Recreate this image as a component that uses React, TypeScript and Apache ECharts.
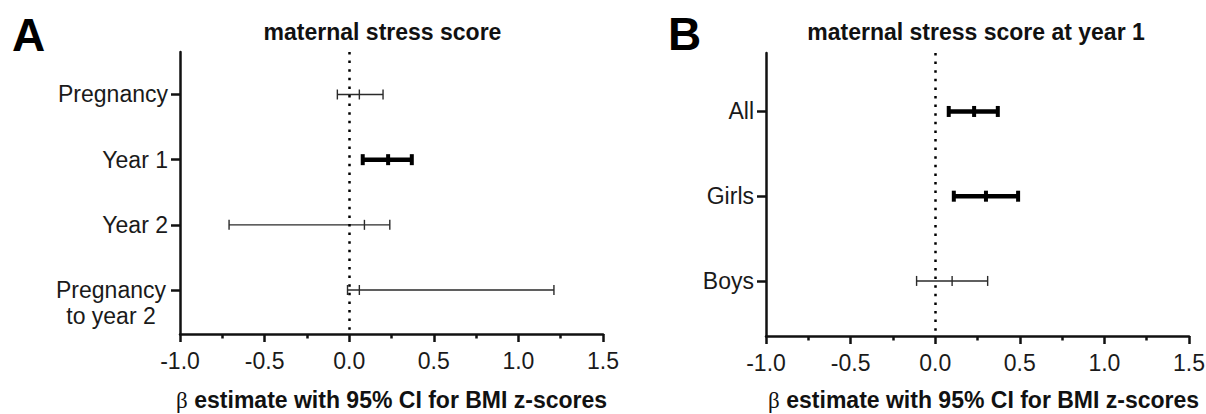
import React, { useEffect, useRef } from "react";
import * as echarts from "echarts";

// Panel A: maternal stress score measured at different times
const categoriesA = ["Pregnancy", "Year 1", "Year 2", "Pregnancy\nto year 2"];
const lowA = [-0.07, 0.08, -0.71, -0.01];
const estimateA = [0.06, 0.23, 0.09, 0.06];
const highA = [0.2, 0.37, 0.24, 1.21];
const significantA = [false, true, false, false];

// Panel B: maternal stress score at year 1, by child sex
const categoriesB = ["All", "Girls", "Boys"];
const lowB = [0.08, 0.11, -0.11];
const estimateB = [0.23, 0.3, 0.1];
const highB = [0.37, 0.49, 0.31];
const significantB = [true, true, false];

const xTicks = [-1.0, -0.5, 0.0, 0.5, 1.0, 1.5];

const FONT = "'Liberation Sans', Arial, Helvetica, sans-serif";
const INK = "#111";
const LABEL_SIZE = 23;

function buildRows(low: number[], est: number[], high: number[], sig: boolean[]) {
  return low.map((l, i) => [l, est[i], high[i], i + 1, sig[i] ? 1 : 0]);
}

function renderErrorBar(_params: any, api: any) {
  const pos = api.value(3);
  const bold = api.value(4) === 1;
  const pLow = api.coord([api.value(0), pos]);
  const pEst = api.coord([api.value(1), pos]);
  const pHigh = api.coord([api.value(2), pos]);
  const half = bold ? 5.5 : 5;
  const style = {
    stroke: bold ? "#000" : "#2a2a2a",
    lineWidth: bold ? 4.5 : 1.4,
    fill: "none",
  };
  const capStyle = { ...style, lineWidth: bold ? 4 : 1.4 };
  const vline = (p: number[]) => ({
    type: "line",
    shape: { x1: p[0], y1: p[1] - half, x2: p[0], y2: p[1] + half },
    style: capStyle,
  });
  return {
    type: "group",
    children: [
      {
        type: "line",
        shape: { x1: pLow[0], y1: pLow[1], x2: pHigh[0], y2: pHigh[1] },
        style,
      },
      vline(pLow),
      vline(pEst),
      vline(pHigh),
    ],
  };
}

function yAxisFor(gridIndex: number, cats: string[], min: number, max: number) {
  const ticks = cats.map((_, i) => i + 1);
  return {
    type: "value",
    gridIndex,
    min,
    max,
    inverse: true,
    splitLine: { show: false },
    axisLine: { show: true, onZero: false, lineStyle: { color: INK, width: 2.5 } },
    axisTick: {
      show: true,
      customValues: ticks,
      length: 9,
      lineStyle: { color: INK, width: 2.5 },
    },
    axisLabel: {
      show: true,
      customValues: ticks,
      margin: 12,
      fontFamily: FONT,
      fontSize: LABEL_SIZE,
      color: "#1a1a1a",
      formatter: (v: number) => {
        const name = cats[Math.round(v) - 1] ?? "";
        if (name.includes("\n")) {
          const lines = name.split("\n");
          return ["{c| }", ...lines.map((s) => `{c|${s}}`)].join("\n");
        }
        return name;
      },
      rich: {
        c: {
          width: 114,
          align: "center",
          fontFamily: FONT,
          fontSize: LABEL_SIZE,
          lineHeight: 26,
          color: "#1a1a1a",
        },
      },
    },
  };
}

function xAxisFor(gridIndex: number, namePad: number[], nameGap: number) {
  return {
    type: "value",
    gridIndex,
    min: xTicks[0],
    max: xTicks[xTicks.length - 1],
    interval: 0.5,
    splitLine: { show: false },
    axisLine: { show: true, onZero: false, lineStyle: { color: INK, width: 2.5 } },
    axisTick: { show: true, length: 8, lineStyle: { color: INK, width: 2.5 } },
    minorTick: { show: true, splitNumber: 2, length: 4.5, lineStyle: { color: INK, width: 2.5 } },
    axisLabel: {
      margin: 15,
      fontFamily: FONT,
      fontSize: LABEL_SIZE,
      color: "#1a1a1a",
      formatter: (v: number) => v.toFixed(1),
    },
    name: "{b|β}  {a|estimate with 95% CI for BMI z-scores}",
    nameLocation: "middle",
    nameGap,
    nameTextStyle: {
      padding: namePad,
      rich: {
        a: { fontFamily: FONT, fontSize: 23, fontWeight: "bold", color: "#111", lineHeight: 20 },
        b: { fontFamily: "'Liberation Serif', 'DejaVu Serif', serif", fontSize: 23, color: "#111", lineHeight: 20 },
      },
    },
  };
}

const zeroLine = {
  silent: true,
  symbol: "none",
  label: { show: false },
  lineStyle: { type: [2.5, 6.1], width: 2.5, color: "#000", cap: "butt" },
  data: [{ xAxis: 0 }],
};

export default function App() {
  const ref = useRef<HTMLDivElement>(null);

  useEffect(() => {
    if (!ref.current) return;
    const chart = echarts.init(ref.current, undefined, { renderer: "svg" });
    chart.setOption({
      animation: false,
      backgroundColor: "#fff",
      grid: [
        { left: 180, top: 52, width: 423, height: 282, outerBoundsMode: "none", containLabel: false },
        { left: 766, top: 53, width: 423, height: 283, outerBoundsMode: "none", containLabel: false },
      ],
      xAxis: [xAxisFor(0, [0, 0, 0, 0], 56), xAxisFor(1, [0, 0, 0, 12], 54)],
      yAxis: [
        yAxisFor(0, categoriesA, 0.348, 4.675),
        yAxisFor(1, categoriesB, 0.31, 3.65),
      ],
      graphic: [
        {
          type: "text",
          x: 12,
          y: 35,
          style: { text: "A", font: `bold 46px ${FONT}`, fill: "#000", textAlign: "left", textVerticalAlign: "middle" },
        },
        {
          type: "text",
          x: 668,
          y: 34,
          style: { text: "B", font: `bold 46px ${FONT}`, fill: "#000", textAlign: "left", textVerticalAlign: "middle" },
        },
        {
          type: "text",
          x: 382.5,
          y: 32,
          style: { text: "maternal stress score", font: `bold 23px ${FONT}`, fill: "#111", textAlign: "center", textVerticalAlign: "middle" },
        },
        {
          type: "text",
          x: 976,
          y: 32,
          style: { text: "maternal stress score at year 1", font: `bold 23px ${FONT}`, fill: "#111", textAlign: "center", textVerticalAlign: "middle" },
        },
      ],
      series: [
        {
          type: "custom",
          name: "A",
          xAxisIndex: 0,
          yAxisIndex: 0,
          renderItem: renderErrorBar,
          encode: { x: [0, 1, 2], y: 3 },
          data: buildRows(lowA, estimateA, highA, significantA),
          markLine: zeroLine,
          clip: false,
        },
        {
          type: "custom",
          name: "B",
          xAxisIndex: 1,
          yAxisIndex: 1,
          renderItem: renderErrorBar,
          encode: { x: [0, 1, 2], y: 3 },
          data: buildRows(lowB, estimateB, highB, significantB),
          markLine: zeroLine,
          clip: false,
        },
      ],
    });
    return () => chart.dispose();
  }, []);

  return (
    <div
      ref={ref}
      style={{ position: "fixed", left: 0, top: 0, width: 1206, height: 414, background: "#fff" }}
    />
  );
}
